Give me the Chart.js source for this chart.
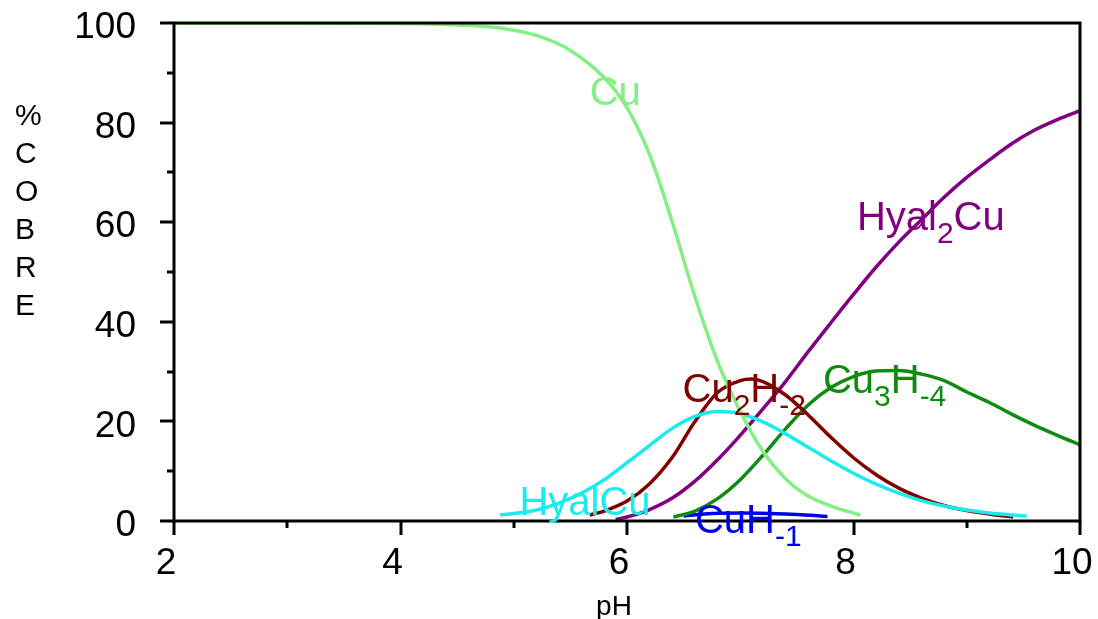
<!DOCTYPE html>
<html>
<head>
<meta charset="utf-8">
<script src="https://cdn.jsdelivr.net/npm/chart.js@4.4.1/dist/chart.umd.min.js"></script>
<style>
  html, body { margin: 0; padding: 0; background: #ffffff; }
  canvas { display: block; }
</style>
</head>
<body>
<canvas id="c" width="1098" height="619"></canvas>
<script>
// ---- data ----
const xTicks = [2, 4, 6, 8, 10];
const yTicks = [0, 20, 40, 60, 80, 100];

const cuPH   = [2, 3, 4, 4.5, 4.88, 5.2, 5.5, 5.8, 6.0, 6.2, 6.4, 6.6, 6.8, 7.0, 7.2, 7.4, 7.6, 7.8, 8.06];
const cuVal  = [100, 100, 99.9, 99.6, 99, 97.5, 94.5, 89, 83, 73.5, 60, 45, 32, 22, 14, 8.5, 5, 3, 1.2];

const hyal2PH  = [5.9, 6.0, 6.2, 6.4, 6.6, 6.8, 7.0, 7.2, 7.4, 7.6, 7.8, 8.0, 8.2, 8.4, 8.6, 8.8, 9.0, 9.2, 9.4, 9.6, 9.8, 10];
const hyal2Val = [0.3, 0.8, 2.3, 4.6, 8.0, 12.3, 17.2, 22.5, 28, 34, 39.8, 45.5, 51, 56, 60.5, 65, 69, 72.5, 75.8, 78.5, 80.6, 82.4];

const cu2PH  = [5.67, 5.8, 6.0, 6.2, 6.4, 6.6, 6.8, 7.0, 7.1, 7.2, 7.4, 7.6, 7.8, 8.0, 8.2, 8.4, 8.6, 8.8, 9.0, 9.2, 9.41];
const cu2Val = [1.2, 2.0, 4.0, 7.5, 12.8, 20, 25.8, 28.2, 28.5, 28.0, 25.3, 21.3, 16.8, 12.7, 9.3, 6.6, 4.6, 3.1, 2.1, 1.4, 0.8];

const hyalPH  = [4.88, 5.0, 5.2, 5.4, 5.6, 5.8, 6.0, 6.2, 6.4, 6.6, 6.8, 7.0, 7.2, 7.4, 7.6, 7.8, 8.0, 8.2, 8.4, 8.6, 8.8, 9.0, 9.2, 9.4, 9.53];
const hyalVal = [1.2, 1.5, 2.2, 3.6, 5.6, 8.3, 11.7, 15.2, 18.6, 21.0, 22.0, 21.6, 19.9, 17.5, 14.8, 12.1, 9.6, 7.4, 5.6, 4.1, 3.0, 2.2, 1.6, 1.2, 1.0];

const cu3PH  = [6.41, 6.6, 6.8, 7.0, 7.2, 7.4, 7.6, 7.8, 8.0, 8.2, 8.4, 8.6, 8.8, 9.0, 9.2, 9.4, 9.6, 9.8, 10];
const cu3Val = [0.8, 2.0, 4.5, 8.3, 13.2, 18.5, 23.3, 26.8, 29.0, 30.1, 30.2, 29.5, 28.2, 25.9, 23.8, 21.4, 19.2, 17.2, 15.3];

const cuhPH  = [6.5, 6.75, 7.0, 7.25, 7.5, 7.77];
const cuhVal = [1.0, 1.5, 1.6, 1.5, 1.3, 0.9];

const yTitle = ['%', 'C', 'O', 'B', 'R', 'E'];
const xTitle = 'pH';

function pts(xs, ys) { return xs.map((x, i) => ({ x: x, y: ys[i] })); }

const C_CU = '#84ef84', C_H2 = '#800080', C_C2 = '#800000', C_HY = '#18ecec', C_C3 = '#108a10', C_CH = '#0000f0';

// curve labels: anchor in data units (left, baseline), parts with subscripts
const curveLabels = [
  { x: 5.67, y: 83.5, color: C_CU, parts: [['Cu', 0]] },
  { x: 8.03, y: 58.4, color: C_H2, parts: [['Hyal', 0], ['2', 1], ['Cu', 0]] },
  { x: 6.49, y: 23.9, color: C_C2, parts: [['Cu', 0], ['2', 1], ['H', 0], ['-2', 1]] },
  { x: 7.73, y: 25.7, color: C_C3, parts: [['Cu', 0], ['3', 1], ['H', 0], ['-4', 1]] },
  { x: 5.05, y: 1.2,  color: C_HY, parts: [['HyalCu', 0]] },
  { x: 6.60, y: -2.4, color: C_CH, parts: [['CuH', 0], ['-1', 1]] }
];

const FONT = '"Liberation Sans", Arial, Helvetica, sans-serif';

const decor = {
  id: 'decor',
  afterDraw(chart) {
    const ctx = chart.ctx, xs = chart.scales.x, ys = chart.scales.y, a = chart.chartArea;
    ctx.save();
    // frame
    ctx.strokeStyle = '#000'; ctx.lineWidth = 3;
    ctx.strokeRect(a.left, a.top, a.right - a.left, a.bottom - a.top);
    // ticks
    ctx.lineWidth = 3; ctx.lineCap = 'butt';
    ctx.beginPath();
    for (let v = 0; v <= 100; v += 10) {
      const p = Math.round(ys.getPixelForValue(v));
      const len = (v % 20 === 0) ? 14 : 7;
      ctx.moveTo(a.left - len, p); ctx.lineTo(a.left, p);
    }
    for (let v = 2; v <= 10; v += 1) {
      const p = Math.round(xs.getPixelForValue(v));
      const len = (v % 2 === 0) ? 14 : 7;
      ctx.moveTo(p, a.bottom); ctx.lineTo(p, a.bottom + len);
    }
    ctx.stroke();
    // y title stacked letters
    ctx.fillStyle = '#000';
    ctx.font = '30px ' + FONT;
    ctx.textAlign = 'left'; ctx.textBaseline = 'middle';
    yTitle.forEach((ch, i) => ctx.fillText(ch, 15, 117 + i * 38));
    // x title
    ctx.font = '28px ' + FONT;
    ctx.textAlign = 'center'; ctx.textBaseline = 'alphabetic';
    ctx.fillText(xTitle, 614, 615);
    // curve labels
    ctx.textAlign = 'left';
    curveLabels.forEach(l => {
      let px = xs.getPixelForValue(l.x);
      const py = ys.getPixelForValue(l.y);
      ctx.fillStyle = l.color;
      l.parts.forEach(([t, sub]) => {
        ctx.font = (sub ? '30px ' : '40px ') + FONT;
        ctx.fillText(t, px, py + (sub ? 13 : 0));
        px += ctx.measureText(t).width;
      });
    });
    ctx.restore();
  }
};

const ds = (label, xsArr, ysArr, color) => ({
  label: label, data: pts(xsArr, ysArr), borderColor: color, backgroundColor: color,
  borderWidth: 3.5, pointRadius: 0, fill: false, cubicInterpolationMode: 'monotone'
});

new Chart(document.getElementById('c'), {
  type: 'line',
  data: {
    datasets: [
      ds('Cu', cuPH, cuVal, C_CU),
      ds('HyalCu', hyalPH, hyalVal, C_HY),
      ds('Cu2H-2', cu2PH, cu2Val, C_C2),
      ds('Hyal2Cu', hyal2PH, hyal2Val, C_H2),
      ds('Cu3H-4', cu3PH, cu3Val, C_C3),
      ds('CuH-1', cuhPH, cuhVal, C_CH)
    ]
  },
  options: {
    responsive: false,
    devicePixelRatio: 1,
    animation: false,
    layout: { padding: { top: 23, right: 18, left: 0, bottom: 0 } },
    plugins: { legend: { display: false }, tooltip: { enabled: false } },
    scales: {
      x: {
        type: 'linear', min: 2, max: 10,
        afterFit(s) { s.height = 98; s.paddingLeft = 0; s.paddingRight = 0; },
        afterBuildTicks(s) { s.ticks = xTicks.map(v => ({ value: v })); },
        grid: { display: false, drawTicks: false },
        border: { display: false },
        ticks: { font: { size: 37, family: FONT }, color: '#000', padding: 21, maxRotation: 0, labelOffset: -8 }
      },
      y: {
        type: 'linear', min: 0, max: 100,
        afterFit(s) { s.width = 174; s.paddingTop = 0; s.paddingBottom = 0; },
        afterBuildTicks(s) { s.ticks = yTicks.map(v => ({ value: v })); },
        grid: { display: false, drawTicks: false },
        border: { display: false },
        ticks: { font: { size: 37, family: FONT }, color: '#000', padding: 38, labelOffset: 5 }
      }
    }
  },
  plugins: [decor]
});
</script>
</body>
</html>
